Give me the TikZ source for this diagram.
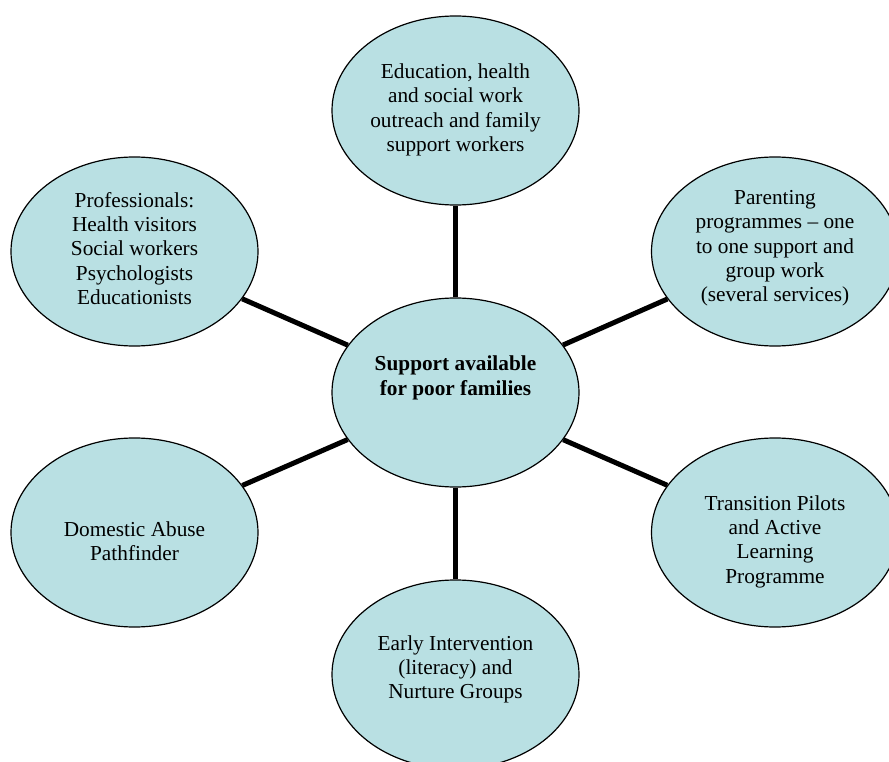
\documentclass[tikz,border=0pt]{standalone}
\usepackage{fontspec}
\setmainfont{Liberation Serif}
\usetikzlibrary{shapes.geometric}
\definecolor{bubble}{RGB}{185,224,227}
\begin{document}
\begin{tikzpicture}[x=1pt,y=-1pt,
  bubble/.style={ellipse,draw=black,line width=1.2pt,fill=bubble,
    minimum width=247pt,minimum height=189pt,inner sep=0pt},
  txt/.style={align=center,font=\fontsize{21.3}{24.3}\selectfont,inner sep=0pt},
  link/.style={line width=5pt}]
\useasboundingbox (0,0) rectangle (889,762);
\node[bubble] (c)  at (455.5,392.5) {};
\node[bubble] (t)  at (455.5,110.5) {};
\node[bubble] (ul) at (134.5,251.5) {};
\node[bubble] (ur) at (775,251.5) {};
\node[bubble] (ll) at (134.5,532.5) {};
\node[bubble] (lr) at (775,532.5) {};
\node[bubble] (b)  at (455.5,674.5) {};
\draw[link] (c) -- (t);
\draw[link] (c) -- (ul);
\draw[link] (c) -- (ur);
\draw[link] (c) -- (ll);
\draw[link] (c) -- (lr);
\draw[link] (c) -- (b);
\node[txt,font=\fontsize{21.3}{24.3}\selectfont\bfseries] (tc) at (455.5,378) {Support available\\for poor families};
\node[txt] (tt) at (455.5,110) {Education, health\\and social work\\outreach and family\\support workers};
\node[txt] (tul) at (134.5,248.5) {Professionals:\\Health visitors\\Social workers\\Psychologists\\Educationists};
\node[txt] (tur) at (775,248.5) {Parenting\\programmes -- one\\to one support and\\group work\\(several services)};
\node[txt] (tll) at (134.5,541) {Domestic Abuse\\Pathfinder};
\node[txt] (tlr) at (775,541.5) {Transition Pilots\\and Active\\Learning\\Programme};
\node[txt] (tb) at (455.5,669.5) {Early Intervention\\(literacy) and\\Nurture Groups};
\end{tikzpicture}
\end{document}
